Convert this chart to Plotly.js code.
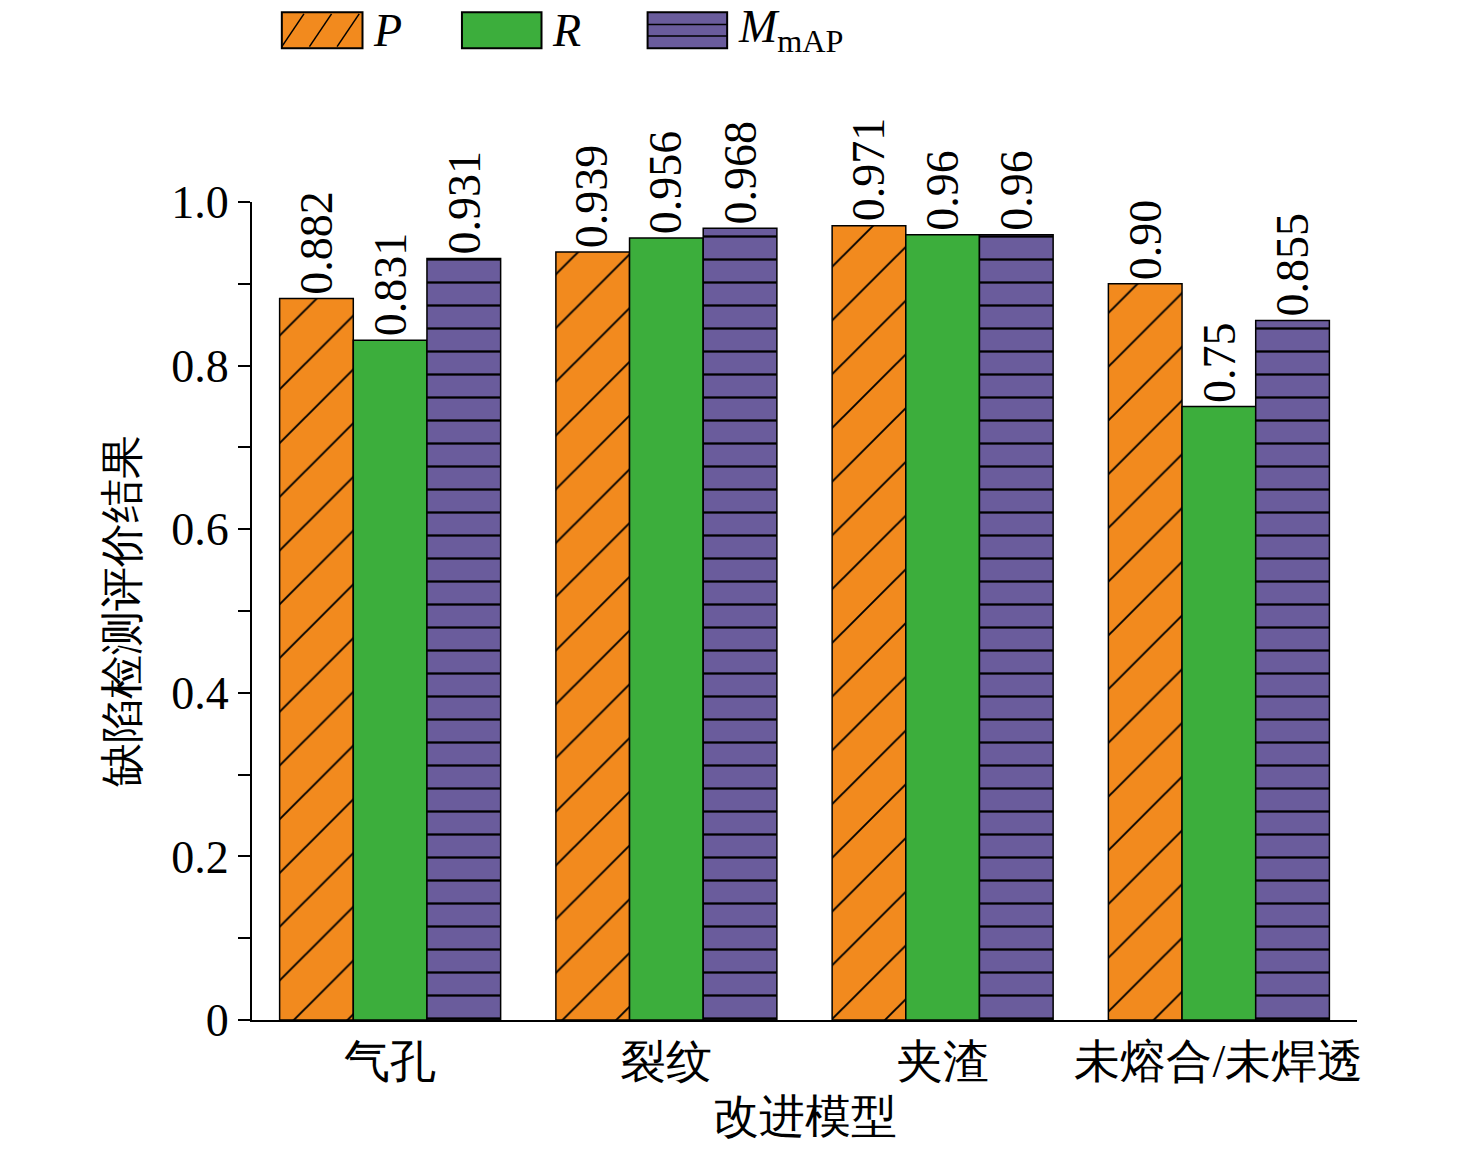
<!DOCTYPE html>
<html><head><meta charset="utf-8">
<script src="https://cdn.plot.ly/plotly-3.0.1.min.js"></script>
<style>body{margin:0;background:#fff}</style></head>
<body><div id="chart" style="width:1476px;height:1164px"></div>
<script>
// defect categories and metrics
var categories = ['气孔', '裂纹', '夹渣', '未熔合/未焊透'];
var precision  = [0.882, 0.939, 0.971, 0.90];
var recall     = [0.831, 0.956, 0.96, 0.75];
var mapValues  = [0.931, 0.968, 0.96, 0.855];
var labelsP    = ['0.882', '0.939', '0.971', '0.90'];
var labelsR    = ['0.831', '0.956', '0.96', '0.75'];
var labelsM    = ['0.931', '0.968', '0.96', '0.855'];
var seriesNames = ['<i>P</i>', '<i>R</i>', '<i>M</i><sub>mAP</sub>'];
var seriesColors = ['#f28a1e', '#3cae3c', '#6a5c9c'];

var serif = 'Liberation Serif';
var barLine = { color: '#000', width: 1.5 };

var traces = [
    { type: 'bar', name: seriesNames[0], x: categories, y: precision,
      marker: { color: seriesColors[0], line: barLine,
        pattern: { shape: '/', fgcolor: '#000', bgcolor: seriesColors[0], size: 38, solidity: 0.05 } } },
    { type: 'bar', name: seriesNames[1], x: categories, y: recall,
      marker: { color: seriesColors[1], line: barLine } },
    { type: 'bar', name: seriesNames[2], x: categories, y: mapValues,
      marker: { color: seriesColors[2], line: barLine,
        pattern: { shape: '-', fgcolor: '#000', bgcolor: seriesColors[2], size: 23, solidity: 0.1 } } }
];

var annotations = [];
[[precision, labelsP, -74], [recall, labelsR, 0], [mapValues, labelsM, 74]].forEach(function (s) {
    categories.forEach(function (c, i) {
        annotations.push({ x: c, y: s[0][i], text: s[1][i], showarrow: false, textangle: -90,
            xanchor: 'center', yanchor: 'bottom', xshift: s[2], yshift: 2,
            font: { family: serif, size: 46, color: '#000' } });
    });
});

// hand-drawn legend (box swatches like the original)
var shapes = [];
var boxX = [[0.027, 0.1], [0.19, 0.262], [0.358, 0.43]];
boxX.forEach(function (b, i) {
    shapes.push({ type: 'rect', xref: 'paper', yref: 'paper', x0: b[0], x1: b[1], y0: 1.188, y1: 1.232,
        fillcolor: seriesColors[i], line: { color: '#000', width: 2 } });
    annotations.push({ xref: 'paper', yref: 'paper', x: b[1] + 0.008, y: 1.21, xanchor: 'left', yanchor: 'middle',
        text: seriesNames[i], showarrow: false, font: { family: serif, size: 46, color: '#000' } });
});
// hatch marks inside P swatch
[0.035, 0.06, 0.085].forEach(function (x) {
    shapes.push({ type: 'line', xref: 'paper', yref: 'paper', x0: x - 0.008, x1: x + 0.012, y0: 1.19, y1: 1.23,
        line: { color: '#000', width: 1.5 } });
});
// stripes inside M swatch
[1.203, 1.217].forEach(function (y) {
    shapes.push({ type: 'line', xref: 'paper', yref: 'paper', x0: 0.358, x1: 0.43, y0: y, y1: y,
        line: { color: '#000', width: 1.5 } });
});

Plotly.newPlot('chart', traces, {
    width: 1476, height: 1164,
    paper_bgcolor: '#fff', plot_bgcolor: '#fff',
    margin: { l: 252, r: 119, t: 202, b: 144 },
    barmode: 'group', bargap: 0.2, bargroupgap: 0,
    font: { family: serif, color: '#000' },
    showlegend: false,
    xaxis: { type: 'category', range: [-0.5, 3.5], showline: true, linecolor: '#000', linewidth: 2,
        ticks: '', tickfont: { family: serif, size: 46 },
        title: { text: '改进模型', font: { family: serif, size: 46 }, standoff: 14 } },
    yaxis: { range: [0, 1.0], showline: true, linecolor: '#000', linewidth: 2, showgrid: false, zeroline: false,
        tickvals: [0, 0.2, 0.4, 0.6, 0.8, 1.0], ticktext: ['0', '0.2', '0.4', '0.6', '0.8', '1.0'],
        ticks: 'outside', ticklen: 12, tickwidth: 2, tickcolor: '#000',
        minor: { dtick: 0.1, tick0: 0, ticks: 'outside', ticklen: 12, tickwidth: 2, tickcolor: '#000' },
        tickfont: { family: serif, size: 46 },
        title: { text: '缺陷检测评价结果', font: { family: serif, size: 44 }, standoff: 20 } },
    shapes: shapes,
    annotations: annotations
}, { displayModeBar: false });
</script></body></html>
